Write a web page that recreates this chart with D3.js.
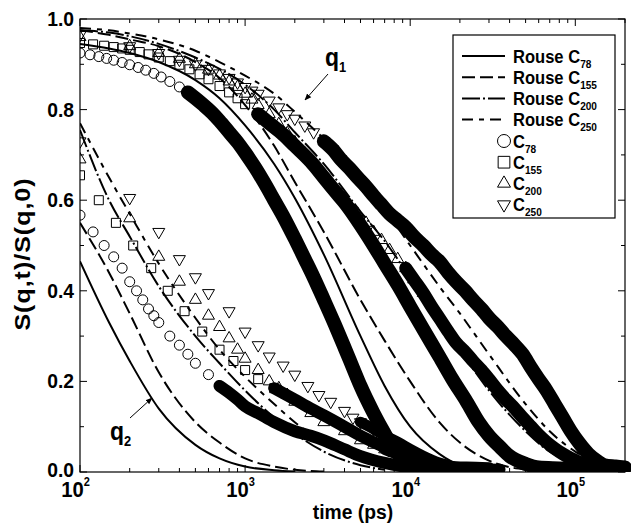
<!DOCTYPE html>
<html>
<head>
<meta charset="utf-8">
<script src="https://cdn.jsdelivr.net/npm/d3@7"></script>
<style>
  body { margin: 0; background: #fff; }
  text { font-family: "Liberation Sans", Arial, sans-serif; font-weight: bold; fill: #000; }
</style>
</head>
<body>
<svg id="chart" width="633" height="525"></svg>
<script>
// ---- Rouse model curves, q1 ----
const rq1C78_t  = [100,150,200,300,500,700,1000,1500,2000,3000,5000,7000,10000,15000,20000,30000];
const rq1C78_v  = [0.945,0.935,0.925,0.905,0.865,0.825,0.765,0.68,0.605,0.48,0.30,0.19,0.10,0.04,0.015,0.003];
const rq1C155_t = [100,150,200,300,500,700,1000,1500,2000,3000,5000,7000,10000,15000,20000,30000,50000];
const rq1C155_v = [0.975,0.965,0.955,0.94,0.905,0.87,0.81,0.72,0.64,0.53,0.38,0.29,0.20,0.11,0.065,0.025,0.005];
const rq1C200_t = [100,150,200,300,500,700,1000,1500,2000,3000,5000,7000,10000,15000,20000,30000,50000,70000,100000,150000];
const rq1C200_v = [0.975,0.97,0.962,0.945,0.915,0.89,0.855,0.80,0.75,0.68,0.575,0.51,0.43,0.34,0.27,0.18,0.09,0.045,0.02,0.005];
const rq1C250_t = [100,150,200,300,500,700,1000,1500,2000,3000,5000,7000,10000,15000,20000,30000,50000,70000,100000,150000,200000];
const rq1C250_v = [0.98,0.975,0.968,0.955,0.93,0.905,0.875,0.835,0.795,0.735,0.645,0.58,0.50,0.41,0.35,0.26,0.15,0.09,0.045,0.015,0.005];

// ---- Rouse model curves, q2 ----
const rq2C78_t  = [100,150,200,300,500,700,1000,1500,2000];
const rq2C78_v  = [0.465,0.33,0.245,0.14,0.06,0.03,0.012,0.004,0.001];
const rq2C155_t = [100,150,200,300,500,700,1000,1500,2000,3000];
const rq2C155_v = [0.55,0.44,0.35,0.22,0.11,0.065,0.03,0.012,0.005,0.001];
const rq2C200_t = [100,150,200,300,500,700,1000,1500,2000,3000,5000,7000];
const rq2C200_v = [0.755,0.60,0.52,0.41,0.30,0.24,0.18,0.12,0.085,0.045,0.015,0.005];
const rq2C250_t = [100,150,200,300,500,700,1000,1500,2000,3000,5000,7000,10000];
const rq2C250_v = [0.77,0.65,0.57,0.46,0.34,0.27,0.21,0.15,0.11,0.065,0.025,0.01,0.003];

// ---- simulation, q1 ----
const sq1C78_t  = [100,115,130,145,160,180,200,225,250,280,310,350,400,450,500,560,630,700,800,900,1000,1150,1300,1500,1700,2000,2300,2600,3000,3500,4000,4500,5000,6000,7000,8000,9000,10000,12000,16000,22000,30000];
const sq1C78_v  = [0.925,0.921,0.917,0.913,0.909,0.904,0.899,0.893,0.887,0.88,0.872,0.862,0.85,0.838,0.825,0.81,0.793,0.775,0.75,0.728,0.705,0.672,0.64,0.60,0.565,0.515,0.47,0.43,0.38,0.325,0.275,0.23,0.19,0.13,0.085,0.05,0.03,0.018,0.01,0.008,0.008,0.006];
const sq1C155_t = [100,120,140,160,180,200,230,260,300,350,400,460,530,600,700,800,900,1000,1200,1400,1700,2000,2500,3000,3500,4000,5000,6000,7000,8500,10000,12000,15000,18000,22000,26000,30000,35000,40000,50000,60000,80000,110000];
const sq1C155_v = [0.947,0.944,0.941,0.938,0.935,0.932,0.927,0.922,0.915,0.907,0.899,0.889,0.878,0.867,0.852,0.838,0.825,0.812,0.79,0.77,0.745,0.72,0.685,0.65,0.62,0.595,0.545,0.50,0.46,0.41,0.365,0.315,0.255,0.205,0.155,0.11,0.08,0.055,0.035,0.018,0.01,0.008,0.006];
const sq1C200_t = [100,200,300,400,500,600,700,800,900,1000,1100,1200,1400,1600,1800,2000,2300,2600,3000,3400,3800,4300,4800,5400,6000,6700,7500,8400,9400,10500,12000,13500,15000,17000,19000,21500,24000,27000,30000,34000,38000,43000,48000,54000,60000,67000,75000,84000,94000,105000,120000,150000,200000];
const sq1C200_v = [0.96,0.94,0.925,0.912,0.90,0.888,0.875,0.862,0.85,0.835,0.822,0.81,0.79,0.768,0.748,0.728,0.703,0.683,0.655,0.632,0.612,0.59,0.57,0.55,0.53,0.512,0.49,0.47,0.45,0.425,0.395,0.365,0.34,0.31,0.285,0.265,0.245,0.225,0.205,0.18,0.16,0.14,0.12,0.10,0.082,0.066,0.052,0.04,0.03,0.022,0.015,0.01,0.008];
const sq1C250_t = [100,200,300,400,500,600,700,800,900,1000,1100,1200,1400,1600,1800,2000,2300,2600,3000,3400,3800,4300,4800,5400,6000,6700,7500,8400,9400,10500,12000,13500,15000,17000,19000,21500,24000,27000,30000,34000,38000,43000,48000,54000,60000,67000,75000,84000,94000,105000,120000,135000,150000,175000,200000];
const sq1C250_v = [0.965,0.94,0.925,0.91,0.90,0.89,0.88,0.87,0.86,0.85,0.842,0.835,0.82,0.805,0.79,0.78,0.765,0.75,0.73,0.712,0.69,0.67,0.65,0.63,0.61,0.59,0.57,0.555,0.54,0.52,0.50,0.48,0.465,0.44,0.42,0.40,0.38,0.36,0.34,0.32,0.30,0.28,0.26,0.23,0.205,0.18,0.15,0.12,0.09,0.065,0.04,0.025,0.015,0.012,0.01];

// ---- simulation, q2 ----
const sq2C78_t  = [100,120,140,160,180,200,220,240,260,280,300,350,400,450,500,600,700,800,900,1000,1200,1500,2000,2500,3000,4000,5000,7000,10000,15000];
const sq2C78_v  = [0.567,0.53,0.50,0.475,0.45,0.42,0.40,0.38,0.36,0.345,0.33,0.30,0.28,0.26,0.24,0.215,0.19,0.175,0.16,0.145,0.13,0.11,0.09,0.08,0.07,0.05,0.035,0.02,0.01,0.006];
const sq2C155_t = [100,130,165,210,270,340,430,550,700,850,1000,1200,1500,2000,2500,3000,4000,5000,7000,10000,15000,20000,30000];
const sq2C155_v = [0.655,0.60,0.55,0.50,0.45,0.40,0.355,0.31,0.27,0.245,0.225,0.205,0.185,0.16,0.14,0.125,0.10,0.08,0.055,0.035,0.015,0.008,0.006];
const sq2C200_t = [100,200,300,400,500,600,700,800,900,1000,1200,1400,1600,1800,2000,2500,3000,4000,5000,6000,7000,8000,10000,12000,15000,25000];
const sq2C200_v = [0.69,0.56,0.475,0.42,0.38,0.345,0.32,0.295,0.27,0.25,0.225,0.20,0.185,0.17,0.155,0.13,0.11,0.09,0.07,0.06,0.05,0.042,0.03,0.02,0.012,0.007];
const sq2C250_t = [100,200,300,400,500,600,800,1000,1200,1400,1700,2000,2400,2800,3300,4000,4500,5000,6000,7000,8500,10000,12000,15000,20000,35000];
const sq2C250_v = [0.73,0.605,0.53,0.47,0.43,0.395,0.355,0.31,0.28,0.255,0.235,0.215,0.19,0.17,0.155,0.135,0.12,0.11,0.095,0.08,0.065,0.05,0.035,0.02,0.01,0.006];

// ---- axes ----
const xDecades   = [100, 1000, 10000, 100000];
const xExponents = ["2", "3", "4", "5"];
const yLabels    = [0, 0.2, 0.4, 0.6, 0.8, 1.0];

// ---- legend entries ----
const legendLines   = [{name: "78", dash: null}, {name: "155", dash: "13,5"}, {name: "200", dash: "18,3,2,3"}, {name: "250", dash: "11,6,5,6"}];
const legendMarkers = [{name: "78", shape: "circle"}, {name: "155", shape: "square"}, {name: "200", shape: "up"}, {name: "250", shape: "down"}];

const svg = d3.select("#chart");
const pL = 80, pR = 625, pT = 19, pB = 472;
const x = d3.scaleLog().domain([100, 2e5]).range([pL, pR]);
const y = d3.scaleLinear().domain([0, 1]).range([pB, pT]);

const pts = (t, v) => t.map((d, i) => ({t: d, v: v[i]}));
const line = d3.line().x(d => x(d.t)).y(d => y(d.v)).curve(d3.curveMonotoneX);

// bold lettering, slightly narrowed
const SQ = 0.92;
function label(parent, px, py, str, size, anchor) {
  const g = parent.append("g").attr("transform", `translate(${px},${py}) scale(${SQ},1)`);
  return g.append("text").attr("text-anchor", anchor || "start").attr("font-size", size).text(str);
}
function vlabel(parent, px, py, str, size) {
  const g = parent.append("g").attr("transform", `translate(${px},${py}) scale(0.85,1) rotate(-90)`);
  return g.append("text").attr("text-anchor", "middle").attr("font-size", size)
    .attr("letter-spacing", 1).text(str);
}

const plot = svg.append("g");
plot.append("clipPath").attr("id", "clip").append("rect")
  .attr("x", pL).attr("y", pT - 8).attr("width", pR - pL + 6).attr("height", pB - pT + 8);
const marks = plot.append("g").attr("clip-path", "url(#clip)");

// marker shapes
function shapePath(shape, s) {
  const h = s * Math.sqrt(3) / 2;
  if (shape === "circle") return d3.symbol(d3.symbolCircle, Math.PI * (s / 2) * (s / 2))();
  if (shape === "square") { const a = s * 0.45; return `M${-a},${-a}H${a}V${a}H${-a}Z`; }
  if (shape === "up") return `M0,${-h * 2 / 3}L${s / 2},${h / 3}L${-s / 2},${h / 3}Z`;
  return `M0,${h * 2 / 3}L${s / 2},${-h / 3}L${-s / 2},${-h / 3}Z`;
}

// simulation series: open symbols, dense tails merge into a solid band
const simSeries = [
  {t: sq1C78_t,  v: sq1C78_v,  shape: "circle", size: 10, band: 450,   w: 14},
  {t: sq1C155_t, v: sq1C155_v, shape: "square", size: 10, band: 1200,  w: 14},
  {t: sq1C200_t, v: sq1C200_v, shape: "up",     size: 12, band: 9400,  w: 13},
  {t: sq1C250_t, v: sq1C250_v, shape: "down",   size: 12, band: 3000,  w: 14},
  {t: sq2C78_t,  v: sq2C78_v,  shape: "circle", size: 10, band: 700,   w: 12},
  {t: sq2C155_t, v: sq2C155_v, shape: "square", size: 10, band: 1500,  w: 12},
  {t: sq2C200_t, v: sq2C200_v, shape: "up",     size: 12, band: 7000,  w: 11},
  {t: sq2C250_t, v: sq2C250_v, shape: "down",   size: 12, band: 5000,  w: 11}
];

simSeries.forEach(s => {
  const data = pts(s.t, s.v);
  const tail = data.filter(d => d.t >= s.band);
  marks.append("path").datum(tail).attr("d", line)
    .attr("fill", "none").attr("stroke", "#000").attr("stroke-width", s.w)
    .attr("stroke-linecap", "round").attr("stroke-linejoin", "round");
  marks.append("g").selectAll("path").data(data.filter(d => d.t < s.band * 1.3)).join("path")
    .attr("transform", d => `translate(${x(d.t)},${y(d.v)})`)
    .attr("d", shapePath(s.shape, s.size))
    .attr("fill", "none").attr("stroke", "#000").attr("stroke-width", 1);
});

// Rouse curves
const rouseSeries = [
  {t: rq1C78_t,  v: rq1C78_v,  dash: null},
  {t: rq1C155_t, v: rq1C155_v, dash: "13,5"},
  {t: rq1C200_t, v: rq1C200_v, dash: "18,3,2,3"},
  {t: rq1C250_t, v: rq1C250_v, dash: "11,6,5,6"},
  {t: rq2C78_t,  v: rq2C78_v,  dash: null},
  {t: rq2C155_t, v: rq2C155_v, dash: "13,5"},
  {t: rq2C200_t, v: rq2C200_v, dash: "18,3,2,3"},
  {t: rq2C250_t, v: rq2C250_v, dash: "11,6,5,6"}
];
rouseSeries.forEach(s => {
  marks.append("path").datum(pts(s.t, s.v)).attr("d", line)
    .attr("fill", "none").attr("stroke", "#000").attr("stroke-width", 2)
    .attr("stroke-dasharray", s.dash);
});

// frame
svg.append("rect").attr("x", pL).attr("y", pT).attr("width", pR - pL).attr("height", pB - pT)
  .attr("fill", "none").attr("stroke", "#000").attr("stroke-width", 1.2);

// x ticks (inward, bottom and top)
const xMinor = x.ticks().filter(t => t >= 100 && t <= 2e5);
xMinor.forEach(t => {
  const major = xDecades.includes(t);
  const len = major ? 7 : 4;
  svg.append("line").attr("x1", x(t)).attr("x2", x(t)).attr("y1", pB).attr("y2", pB - len).attr("stroke", "#000");
  svg.append("line").attr("x1", x(t)).attr("x2", x(t)).attr("y1", pT).attr("y2", pT + len).attr("stroke", "#000");
});
xDecades.forEach((t, i) => {
  const tx = label(svg, x(t) - 4.5, 497, "10", 22, "middle");
  tx.append("tspan").attr("dy", -11).attr("font-size", 12).text(xExponents[i]);
});

// y ticks
d3.range(0, 11).forEach(i => {
  const v = i / 10, major = i % 2 === 0;
  const len = major ? 7 : 4;
  svg.append("line").attr("x1", pL).attr("x2", pL + len).attr("y1", y(v)).attr("y2", y(v)).attr("stroke", "#000");
  svg.append("line").attr("x1", pR).attr("x2", pR - len).attr("y1", y(v)).attr("y2", y(v)).attr("stroke", "#000");
});
yLabels.forEach(v => {
  label(svg, 74, y(v) + (v === 0 ? 5 : 7), v.toFixed(1), 21, "end");
});

// axis titles
label(svg, 353, 519, "time (ps)", 21, "middle");
vlabel(svg, 30, 254, "S(q,t)/S(q,0)", 25);

// q labels with arrows
svg.append("defs").append("marker").attr("id", "head").attr("viewBox", "0 0 10 10")
  .attr("refX", 9).attr("refY", 5).attr("markerWidth", 7).attr("markerHeight", 7).attr("orient", "auto")
  .append("path").attr("d", "M0,1L10,5L0,9Z").attr("fill", "#000");
const q1 = label(svg, 325, 66, "q", 25, "start");
q1.append("tspan").attr("dy", 6).attr("font-size", 14).text("1");
svg.append("line").attr("x1", 328).attr("y1", 74).attr("x2", 305).attr("y2", 100)
  .attr("stroke", "#000").attr("marker-end", "url(#head)");
const q2 = label(svg, 110, 440, "q", 25, "start");
q2.append("tspan").attr("dy", 6).attr("font-size", 14).text("2");
svg.append("line").attr("x1", 130).attr("y1", 418).attr("x2", 152).attr("y2", 398)
  .attr("stroke", "#000").attr("marker-end", "url(#head)");

// legend
const lg = svg.append("g");
lg.append("rect").attr("x", 453).attr("y", 35).attr("width", 162).attr("height", 183)
  .attr("fill", "#fff").attr("stroke", "#000").attr("stroke-width", 1.2);
legendLines.forEach((d, i) => {
  const yy = 56 + i * 21.2;
  lg.append("line").attr("x1", 462).attr("x2", 505).attr("y1", yy).attr("y2", yy)
    .attr("stroke", "#000").attr("stroke-width", 2).attr("stroke-dasharray", d.dash);
  const t = label(lg, 513, yy + 6.5, "Rouse C", 18, "start");
  t.append("tspan").attr("dy", 5).attr("font-size", 11).text(d.name);
});
legendMarkers.forEach((d, i) => {
  const yy = 141 + i * 21.2;
  lg.append("path").attr("transform", `translate(504,${yy})`).attr("d", shapePath(d.shape, 13))
    .attr("fill", "none").attr("stroke", "#000");
  const t = label(lg, 513, yy + 6.5, "C", 18, "start");
  t.append("tspan").attr("dy", 5).attr("font-size", 11).text(d.name);
});
</script>
</body>
</html>
